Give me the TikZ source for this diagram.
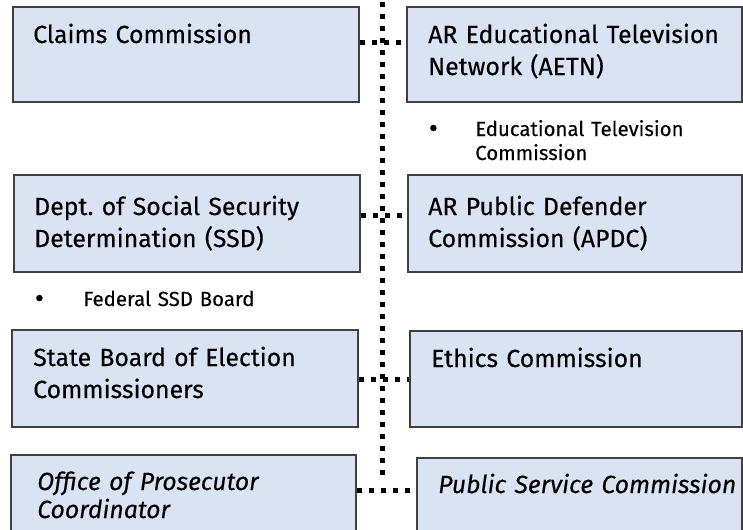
\documentclass[tikz,border=0pt]{standalone}
\usepackage{fontspec}
\setmainfont{Fira Sans}[WordSpace=0.75, FakeBold=0.3]
\usetikzlibrary{fit,calc}
\definecolor{boxfill}{HTML}{DAE3F3}
\definecolor{boxline}{HTML}{404040}
\newcommand{\blt}[1]{\llap{\raisebox{-1.2pt}{\fontsize{21}{21}\selectfont\textbullet}\hspace{#1}}}
\tikzset{
  box/.style={draw=boxline, fill=boxfill, line width=1.1pt, inner sep=0pt},
  big/.style={anchor=base west, inner sep=0pt, text width=260pt, align=left, font=\fontsize{18.6}{24}\selectfont},
  bigit/.style={anchor=base west, inner sep=0pt, text width=260pt, align=left, font=\fontsize{18.6}{21}\selectfont\itshape},
  small/.style={anchor=base west, inner sep=0pt, text width=200pt, align=left, font=\fontsize{15.3}{18}\selectfont},
  dotline/.style={line width=4.1pt, dash pattern=on 4.1pt off 4.9pt, line cap=butt},
}
\begin{document}
\frenchspacing
\begin{tikzpicture}[x=0.75pt,y=-0.75pt]
\clip (0,0) rectangle (743,529);
% boxes
\node[box, fit={(13,7) (359,102)}] (b1) {};
\node[box, fit={(407,7) (742,102)}] (b2) {};
\node[box, fit={(14,175) (360,272)}] (b3) {};
\node[box, fit={(408,175) (742,272)}] (b4) {};
\node[box, fit={(12,330) (358,427)}] (b5) {};
\node[box, fit={(410,331) (742,427)}] (b6) {};
\node[box, fit={(11,455) (356,545)}] (b7) {};
\node[box, fit={(417,458) (742,545)}] (b8) {};
% texts
\node[big] (t1) at (33,43) {Claims Commission};
\node[big] (t2) at (428,43) {AR Educational Television\\Network (AETN)};
\node[small] (n1) at (475,136) {\blt{28pt}Educational Television\\Commission};
\node[big] (t3) at (34,215) {Dept. of Social Security\\Determination (SSD)};
\node[big] (t4) at (428,215) {AR Public Defender\\Commission (APDC)};
\node[small] (n2) at (83,306) {\blt{29.5pt}Federal SSD Board};
\node[big] (t5) at (33,366) {State Board of Election\\Commissioners};
\node[big] (t6) at (431,367) {Ethics Commission};
\node[bigit] (t7) at (37,490) {Office of Prosecutor\\Coordinator};
\node[bigit] (t8) at (438,493) {Public Service Commission};
% connectors
\coordinate (vtop) at (382.5,2);
\coordinate (vbot) at (382.5,478);
\draw[dotline] (vtop) -- (vbot);
\draw[dotline] ($(b1.north east)+(0,36)$) -- ($(b2.north west)+(0,36)$);
\draw[dotline] ($(b3.north east)+(0,41)$) -- ($(b4.north west)+(0,41)$);
\draw[dotline] ($(b5.north east)+(0,50)$) -- ($(b6.north west)+(0,49)$);
\draw[dotline] ($(b7.north east)+(0,36)$) -- ($(b8.north west)+(0,33)$);
\end{tikzpicture}
\end{document}
